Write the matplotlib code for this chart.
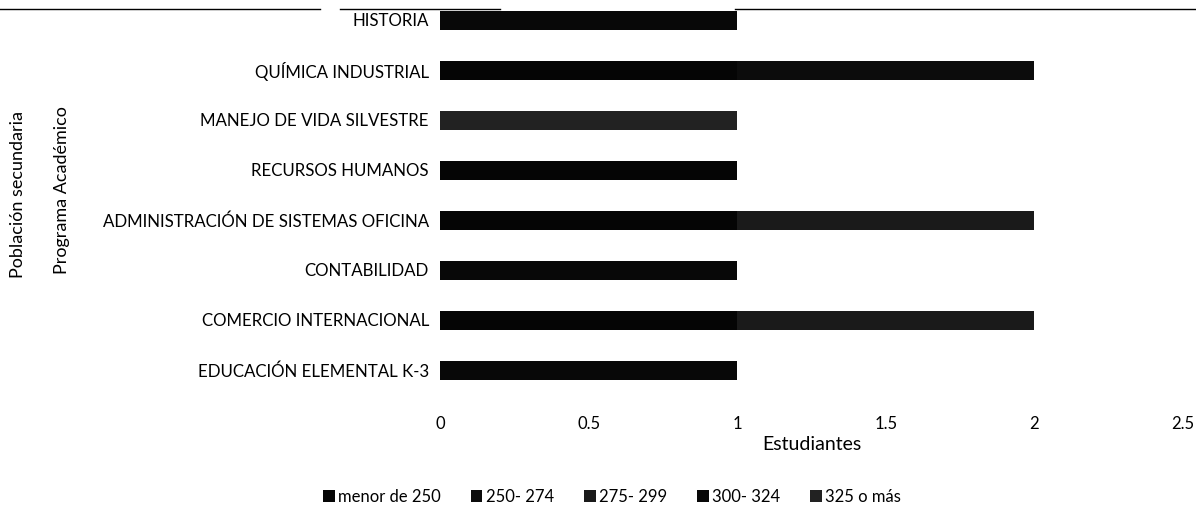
import matplotlib.pyplot as plt, numpy as np

programas = ['EDUCACIÓN ELEMENTAL K-3', 'COMERCIO INTERNACIONAL', 'CONTABILIDAD',
             'ADMINISTRACIÓN DE SISTEMAS OFICINA', 'RECURSOS HUMANOS',
             'MANEJO DE VIDA SILVESTRE', 'QUÍMICA INDUSTRIAL', 'HISTORIA']
rangos = ['menor de 250', '250- 274', '275- 299', '300- 324', '325 o más']
menor_250 = [0, 1, 0, 1, 1, 0, 1, 0]
r250_274 = [0, 0, 0, 0, 0, 0, 1, 0]
r275_299 = [0, 1, 0, 1, 0, 0, 0, 0]
r300_324 = [1, 0, 1, 0, 0, 0, 0, 1]
r325_mas = [0, 0, 0, 0, 0, 1, 0, 0]
xticks = [0, 0.5, 1, 1.5, 2, 2.5]

series = [menor_250, r250_274, r275_299, r300_324, r325_mas]
colores = ['#050505', '#0c0c0c', '#1a1a1a', '#080808', '#222222']

plt.rcParams['font.family'] = ['Lato', 'DejaVu Sans']
fig = plt.figure(figsize=(11.96, 5.21), dpi=100)
ax = fig.add_axes([440/1196, 1-395/521, (1183-440)/1196, 395/521])

y = np.arange(len(programas))
left = np.zeros(len(programas))
for vals, nombre, c in zip(series, rangos, colores):
    ax.barh(y, vals, left=left, height=0.38, color=c, label=nombre)
    left += np.array(vals)

ax.set_ylim(-0.5, 7.4)
ax.set_xlim(0, 2.5)
ax.set_yticks(y)
ax.set_yticklabels(programas, fontsize=12.2)
ax.set_xticks(xticks)
ax.set_xticklabels(['0', '0.5', '1', '1.5', '2', '2.5'], fontsize=12)
ax.tick_params(length=0)
ax.tick_params(axis='y', pad=8)
ax.tick_params(axis='x', pad=15)
for s in ax.spines.values():
    s.set_visible(False)
ax.set_xlabel('Estudiantes', fontsize=14, labelpad=3)

fig.text(18/1196, 1-195/521, 'Población secundaria', rotation=90, ha='center', va='center', fontsize=13)
fig.text(62/1196, 1-190/521, 'Programa Académico', rotation=90, ha='center', va='center', fontsize=13)

# linea superior del escaneo
for x0, x1 in [(0, 320), (340, 500), (735, 1196)]:
    fig.add_artist(plt.Line2D([x0/1196, x1/1196], [1-9/521, 1-9/521], color='black', lw=1))

ax.legend(loc='center', bbox_to_anchor=(612/1196, 1-497/521), bbox_transform=fig.transFigure,
          ncol=5, frameon=False, fontsize=12, handlelength=0.7, handleheight=0.7,
          handletextpad=0.2, columnspacing=1.8)

fig.savefig('out.png', dpi=100)
